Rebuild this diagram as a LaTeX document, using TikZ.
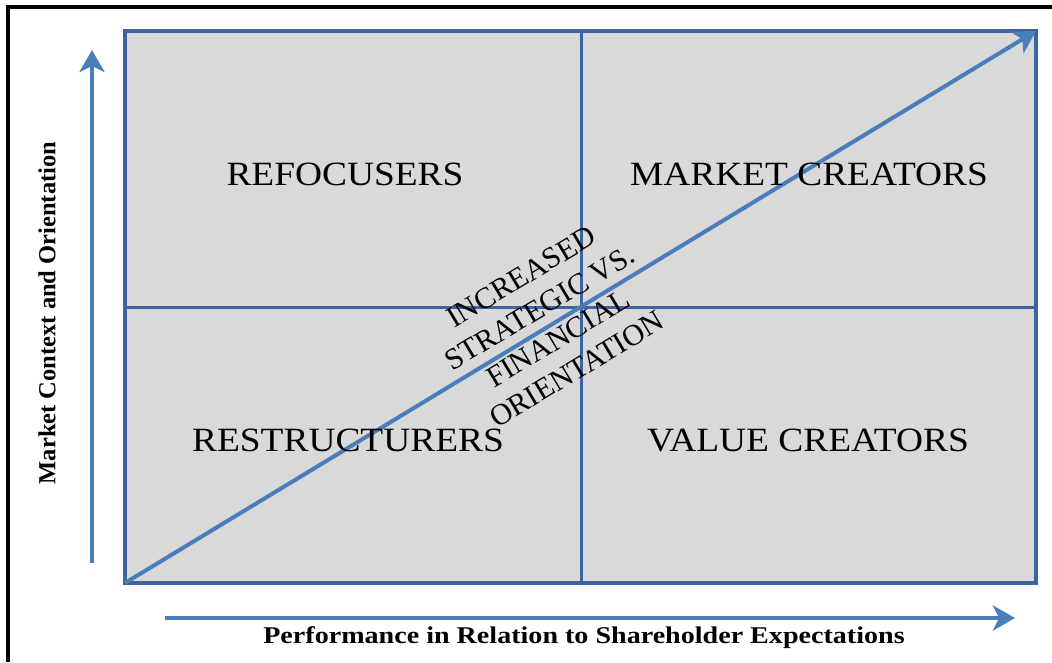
\documentclass[tikz,border=0pt]{standalone}
\usepackage{fontspec}
\setmainfont{Liberation Serif}
\newfontfamily\quadfont[FakeStretch=1.1]{Liberation Serif}
\newfontfamily\axisfont[FakeStretch=1.17]{Liberation Serif}
\usetikzlibrary{arrows.meta}

\definecolor{gridblue}{RGB}{59,100,160}
\definecolor{arrowblue}{RGB}{74,126,187}
\definecolor{cellgray}{RGB}{217,217,217}

\begin{document}
\begin{tikzpicture}[x=1pt,y=-1pt,line join=miter,
  gridbox/.style={draw=gridblue,line width=3.5pt,fill=cellgray},
  gridline/.style={draw=gridblue,line width=3pt},
  axisarrow/.style={draw=arrowblue,line width=4pt,-{Stealth[length=22pt,width=25pt,inset=6pt]}},
  quadlabel/.style={font=\quadfont\fontsize{34}{40}\selectfont},
  axislabel/.style={font=\axisfont\bfseries\fontsize{24}{28}\selectfont}]
  \useasboundingbox (0,0) rectangle (1052,662);
%%
  % Frame
  \draw [line width=3.5pt] (8,662) -- (8,7) -- (1052,7);
  % Grid: box and mid lines
  \coordinate (sw) at (125,583);
  \coordinate (ne) at (1036,31);
  \coordinate (midtop) at (581,31);
  \coordinate (midbot) at (581,583);
  \coordinate (midleft) at (125,307);
  \coordinate (midright) at (1036,307);
  \draw [gridbox] (sw) rectangle (ne);
  \draw [gridline] (midtop) -- (midbot);
  \draw [gridline] (midleft) -- (midright);
  % Edge: sw -> ne
  \draw [axisarrow] (sw) -- (ne);
  % Axes
  \coordinate (ytail) at (92,563);
  \coordinate (yhead) at (92,50);
  \coordinate (xtail) at (165,618);
  \coordinate (xhead) at (1015,618);
  \draw [axisarrow] (ytail) -- (yhead);
  \draw [axisarrow] (xtail) -- (xhead);
  % Node: quadrants
  \node [quadlabel] (refocusers) at (345,174) {REFOCUSERS};
  \node [quadlabel] (marketcreators) at (809,174) {MARKET CREATORS};
  \node [quadlabel] (restructurers) at (348,440) {RESTRUCTURERS};
  \node [quadlabel] (valuecreators) at (808,440) {VALUE CREATORS};
  % Node: orientation
  \node [rotate=31,align=center,font=\fontsize{30}{36}\selectfont] (orientation) at (549,323)
    {INCREASED\\STRATEGIC VS.\\FINANCIAL\\ORIENTATION};
  % Node: axis labels
  \node [axislabel,rotate=90,font=\bfseries\fontsize{24.5}{28}\selectfont] (ylabel) at (47,313) {Market Context and Orientation};
  \node [axislabel] (xlabel) at (584,638) {Performance in Relation to Shareholder Expectations};
%
\end{tikzpicture}
\end{document}
